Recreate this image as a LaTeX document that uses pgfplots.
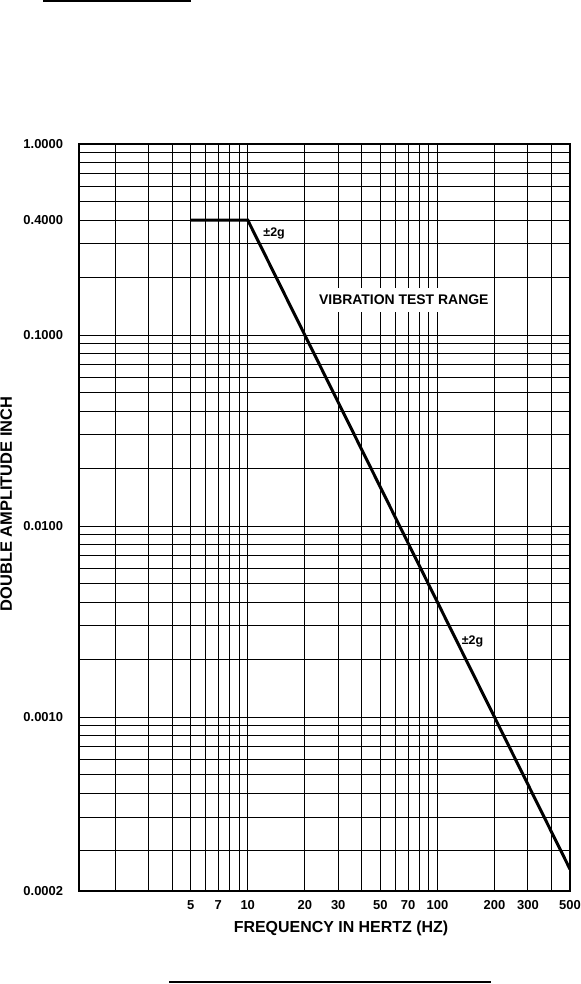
\documentclass[border=0pt]{standalone}
\usepackage{fontspec}
\setmainfont{Liberation Sans}
\usepackage{pgfplots}
\pgfplotsset{compat=1.18}
\begin{document}
\begin{tikzpicture}
\path[use as bounding box] (0bp,0bp) rectangle (581bp,984bp);
\draw[line width=2.2bp] (43bp,982.9bp) -- (191bp,982.9bp);
\draw[line width=2bp] (169bp,2.3bp) -- (491bp,2.3bp);
\begin{axis}[
  at={(79bp,93bp)}, anchor=south west,
  scale only axis, width=491bp, height=747bp,
  xmode=log, ymode=log,
  xmin=1.29, xmax=500, ymin=0.000123, ymax=1,
  xtick={5,7,10,20,30,50,70,100,200,300,500},
  xticklabels={5,7,10,20,30,50,70,100,200,300,500},
  minor xtick={2,3,4,6,8,9,40,60,80,90,400},
  ytick={0.000123,0.001,0.01,0.1,0.4,1},
  yticklabels={0.0002,0.0010,0.0100,0.1000,0.4000,1.0000},
  minor ytick={0.0002,0.0003,0.0004,0.0005,0.0006,0.0007,0.0008,0.0009,0.002,0.003,0.004,0.005,0.006,0.007,0.008,0.009,0.02,0.03,0.04,0.05,0.06,0.07,0.08,0.09,0.2,0.3,0.5,0.6,0.7,0.8,0.9},
  grid=both,
  major grid style={black, line width=1bp},
  minor grid style={black, line width=1bp},
  major tick length=0pt, minor tick length=0pt,
  axis line style={black, line width=2.7bp},
  tick style={draw=none},
  xticklabel style={font=\fontsize{13}{15}\selectfont\bfseries, inner sep=0pt, anchor=north, yshift=-9.7bp},
  yticklabel style={font=\fontsize{13}{15}\selectfont\bfseries, inner sep=0pt, anchor=east, xshift=-15.7bp},
  xlabel={FREQUENCY IN HERTZ (HZ)},
  ylabel={DOUBLE AMPLITUDE INCH},
  xlabel style={font=\fontsize{16}{18}\selectfont\bfseries, at={(axis description cs:0.5336,0)}, anchor=north, inner sep=0pt, yshift=-29.7bp},
  ylabel style={font=\fontsize{16.5}{18}\selectfont\bfseries, at={(axis description cs:-0.148,0.518)}, anchor=center, inner sep=0pt},
]
\addplot[black, line width=3bp, line join=miter] coordinates {(5,0.4) (10,0.4) (500,0.00016)};
\node[fill=white, inner xsep=3bp, inner ysep=7.5bp, font=\fontsize{14}{16}\selectfont\bfseries] at (axis cs:66.5,0.1525) {VIBRATION TEST RANGE};
\node[inner sep=0pt, anchor=base west, font=\fontsize{12.5}{14}\selectfont\bfseries] at (axis cs:12.08,0.328) {±2g};
\node[inner sep=0pt, anchor=base west, font=\fontsize{12.5}{14}\selectfont\bfseries] at (axis cs:134.3,0.00241) {±2g};
\end{axis}
\end{tikzpicture}
\end{document}
